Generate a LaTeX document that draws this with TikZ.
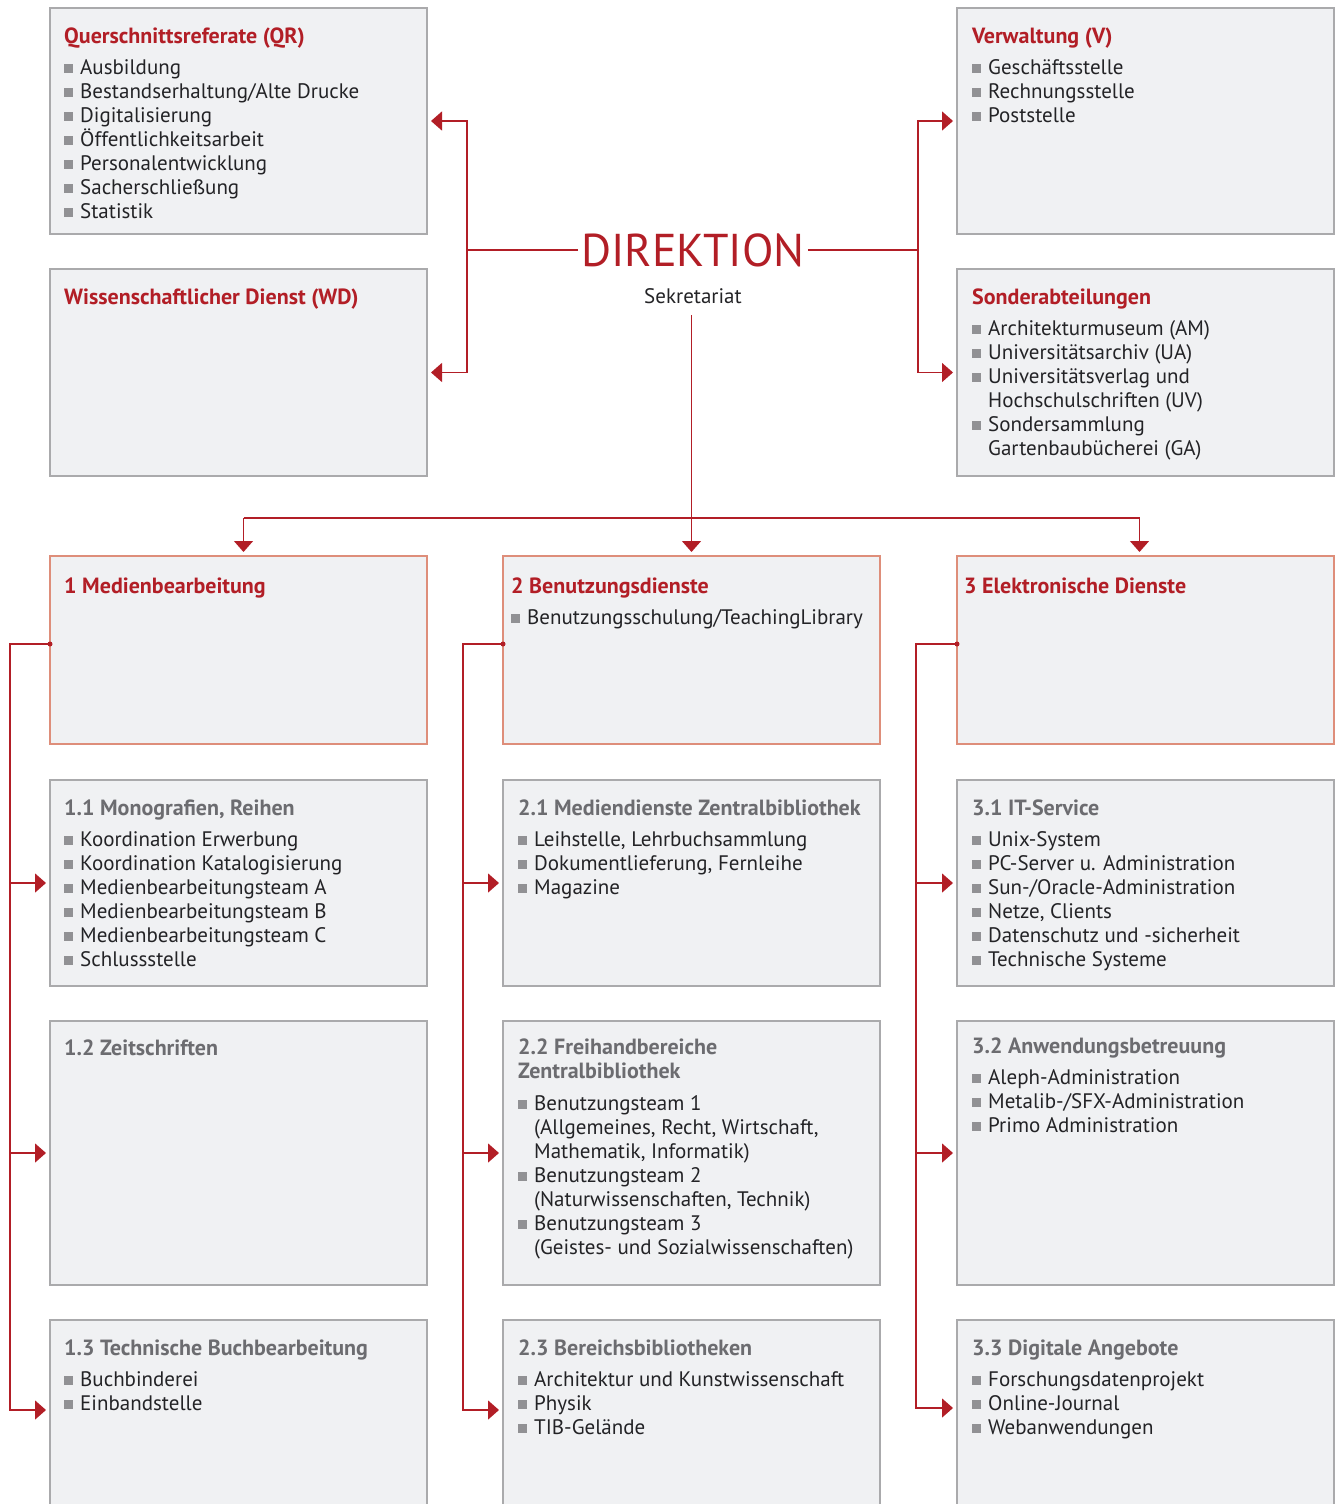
\documentclass[tikz,border=0pt]{standalone}
\usepackage{fontspec}
\setmainfont{PT Sans}
\usepackage{xcolor}
\usetikzlibrary{arrows.meta,positioning}

\definecolor{tibred}{RGB}{178,30,38}
\definecolor{boxfill}{RGB}{240,241,243}
\definecolor{boxgray}{RGB}{170,170,172}
\definecolor{boxsalmon}{RGB}{222,142,122}
\definecolor{textdark}{RGB}{35,35,38}
\definecolor{headgray}{RGB}{108,108,112}
\definecolor{bulgray}{RGB}{145,145,148}

\newcommand{\itm}{\makebox[16pt][l]{\textcolor{bulgray}{\rule[1pt]{9pt}{9pt}}}}
\newcommand{\cnt}{\hspace*{16pt}}
\newcommand{\hdr}[1]{\rule{0pt}{18pt}{\fontsize{22}{24}\selectfont\textbf{\textcolor{tibred}{#1}}}}
\newcommand{\hdg}[1]{\rule{0pt}{18pt}{\fontsize{22}{24}\selectfont\textbf{\textcolor{headgray}{#1}}}}

\begin{document}
\begin{tikzpicture}[
    x=1pt, y=-1pt,
    box/.style={rectangle, draw=boxgray, line width=1.3pt, fill=boxfill, minimum width=377pt, inner sep=0pt, outer sep=0pt, anchor=north west},
    mainbox/.style={box, draw=boxsalmon},
    txt/.style={anchor=north west, align=left, inner sep=0pt, text=textdark, font=\fontsize{21}{24}\selectfont},
    link/.style={draw=tibred, line width=1.4pt},
    arrow/.style={link, -{Triangle[length=11pt,width=19pt]}, shorten >=4pt}
]
    \useasboundingbox (0,0) rectangle (1338,1504);

    % top boxes
    \node[box, minimum height=226pt] (qr) at (50,8) {};
    \node[box, minimum height=207pt, below=35pt of qr] (wd) {};
    \node[box, minimum height=226pt, right=530pt of qr] (vw) {};
    \node[box, minimum height=207pt, below=35pt of vw] (son) {};

    \node[font=\fontsize{46}{50}\selectfont, text=tibred, inner sep=3pt, anchor=base] (dir) at (693,266) {DIREKTION};
    \node[font=\fontsize{21}{24}\selectfont, text=textdark, inner sep=3pt, anchor=base] (sek) at (693,303) {Sekretariat};

    % departments
    \node[mainbox, minimum height=188pt, below=80pt of wd] (m1) {};
    \node[mainbox, minimum height=188pt, right=76pt of m1] (m2) {};
    \node[mainbox, minimum height=188pt, right=77pt of m2] (m3) {};

    \node[box, minimum height=206pt, below=36pt of m1] (s11) {};
    \node[box, minimum height=264pt, below=35pt of s11] (s12) {};
    \node[box, minimum height=220pt, below=35pt of s12] (s13) {};
    \node[box, minimum height=206pt, below=36pt of m2] (s21) {};
    \node[box, minimum height=264pt, below=35pt of s21] (s22) {};
    \node[box, minimum height=220pt, below=35pt of s22] (s23) {};
    \node[box, minimum height=206pt, below=36pt of m3] (s31) {};
    \node[box, minimum height=264pt, below=35pt of s31] (s32) {};
    \node[box, minimum height=220pt, below=35pt of s32] (s33) {};

    % texts
    \node[txt] (qrt) at ([xshift=14pt,yshift=-17pt]qr.north west) {\hdr{Querschnittsreferate (QR)}\\[7pt]
        \itm Ausbildung\\ \itm Bestandserhaltung/Alte Drucke\\ \itm Digitalisierung\\ \itm Öffentlichkeitsarbeit\\
        \itm Personalentwicklung\\ \itm Sacherschließung\\ \itm Statistik};
    \node[txt] (wdt) at ([xshift=14pt,yshift=-17pt]wd.north west) {\hdr{Wissenschaftlicher Dienst (WD)}};
    \node[txt] (vwt) at ([xshift=15pt,yshift=-17pt]vw.north west) {\hdr{Verwaltung (V)}\\[7pt]
        \itm Geschäftsstelle\\ \itm Rechnungsstelle\\ \itm Poststelle};
    \node[txt] (sont) at ([xshift=15pt,yshift=-17pt]son.north west) {\hdr{Sonderabteilungen}\\[7pt]
        \itm Architekturmuseum (AM)\\ \itm Universitätsarchiv (UA)\\ \itm Universitätsverlag und\\ \cnt Hochschulschriften (UV)\\
        \itm Sondersammlung\\ \cnt Gartenbaubücherei (GA)};

    \node[txt] (m1t) at ([xshift=14pt,yshift=-19pt]m1.north west) {\hdr{1 Medienbearbeitung}};
    \node[txt] (m2t) at ([xshift=8pt,yshift=-19pt]m2.north west) {\hdr{2 Benutzungsdienste}\\[7pt]
        \itm Benutzungsschulung/TeachingLibrary};
    \node[txt] (m3t) at ([xshift=7pt,yshift=-19pt]m3.north west) {\hdr{3 Elektronische Dienste}};

    \node[txt] (s11t) at ([xshift=14pt,yshift=-17pt]s11.north west) {\hdg{1.1 Monografien, Reihen}\\[7pt]
        \itm Koordination Erwerbung\\ \itm Koordination Katalogisierung\\ \itm Medienbearbeitungsteam A\\
        \itm Medienbearbeitungsteam B\\ \itm Medienbearbeitungsteam C\\ \itm Schlussstelle};
    \node[txt] (s12t) at ([xshift=14pt,yshift=-16pt]s12.north west) {\hdg{1.2 Zeitschriften}};
    \node[txt] (s13t) at ([xshift=14pt,yshift=-17pt]s13.north west) {\hdg{1.3 Technische Buchbearbeitung}\\[7pt]
        \itm Buchbinderei\\ \itm Einbandstelle};

    \node[txt] (s21t) at ([xshift=15pt,yshift=-17pt]s21.north west) {\hdg{2.1 Mediendienste Zentralbibliothek}\\[7pt]
        \itm Leihstelle, Lehrbuchsammlung\\ \itm Dokumentlieferung, Fernleihe\\ \itm Magazine};
    \node[txt] (s22t) at ([xshift=15pt,yshift=-15pt]s22.north west) {\hdg{2.2 Freihandbereiche}\\ \hdg{Zentralbibliothek}\\[8pt]
        \itm Benutzungsteam 1\\ \cnt (Allgemeines, Recht, Wirtschaft,\\ \cnt Mathematik, Informatik)\\
        \itm Benutzungsteam 2\\ \cnt (Naturwissenschaften, Technik)\\
        \itm Benutzungsteam 3\\ \cnt (Geistes- und Sozialwissenschaften)};
    \node[txt] (s23t) at ([xshift=15pt,yshift=-17pt]s23.north west) {\hdg{2.3 Bereichsbibliotheken}\\[7pt]
        \itm Architektur und Kunstwissenschaft\\ \itm Physik\\ \itm TIB-Gelände};

    \node[txt] (s31t) at ([xshift=15pt,yshift=-17pt]s31.north west) {\hdg{3.1 IT-Service}\\[7pt]
        \itm Unix-System\\ \itm PC-Server u. Administration\\ \itm Sun-/Oracle-Administration\\
        \itm Netze, Clients\\ \itm Datenschutz und -sicherheit\\ \itm Technische Systeme};
    \node[txt] (s32t) at ([xshift=15pt,yshift=-14pt]s32.north west) {\hdg{3.2 Anwendungsbetreuung}\\[7pt]
        \itm Aleph-Administration\\ \itm Metalib-/SFX-Administration\\ \itm Primo Administration};
    \node[txt] (s33t) at ([xshift=15pt,yshift=-17pt]s33.north west) {\hdg{3.3 Digitale Angebote}\\[7pt]
        \itm Forschungsdatenprojekt\\ \itm Online-Journal\\ \itm Webanwendungen};

    % direktion connectors
    \coordinate (lj) at (467,0);
    \coordinate (rj) at (918,0);
    \coordinate (bus) at (0,518);
    \coordinate (d1) at ([xshift=5pt]m1.north);
    \coordinate (d3) at ([xshift=-6pt]m3.north);
    \draw[link] (dir.west) -- (dir.west -| lj);
    \draw[link] (dir.east) -- (dir.east -| rj);
    \draw[arrow] (dir.west -| lj) |- (qr.east);
    \draw[arrow] (dir.west -| lj) |- (wd.east);
    \draw[arrow] (dir.east -| rj) |- (vw.west);
    \draw[arrow] (dir.east -| rj) |- (son.west);
    \draw[arrow, shorten <=9pt] (sek.south -| m2.north) -- (m2.north);
    \draw[link] (d1 |- bus) -- (d3 |- bus);
    \draw[arrow] (d1 |- bus) -- (d1);
    \draw[arrow] (d3 |- bus) -- (d3);

    % department connectors
    \coordinate (k1) at ([xshift=-40pt,yshift=6pt]m1.west);
    \coordinate (k2) at ([xshift=-40pt,yshift=6pt]m2.west);
    \coordinate (k3) at ([xshift=-41pt,yshift=6pt]m3.west);
    \coordinate (e1) at ([yshift=-90pt]s13.north west);
    \coordinate (e2) at ([yshift=-90pt]s23.north west);
    \coordinate (e3) at ([yshift=-88pt]s33.north west);

    \fill[tibred] ([yshift=6pt]m1.west) circle (2.5pt);
    \draw[arrow] ([yshift=6pt]m1.west) -- (k1) |- (e1);
    \draw[arrow] (k1 |- s11.west) -- (s11.west);
    \draw[arrow] (k1 |- s12.west) -- (s12.west);

    \fill[tibred] ([yshift=6pt]m2.west) circle (2.5pt);
    \draw[arrow] ([yshift=6pt]m2.west) -- (k2) |- (e2);
    \draw[arrow] (k2 |- s21.west) -- (s21.west);
    \draw[arrow] (k2 |- s22.west) -- (s22.west);

    \fill[tibred] ([yshift=6pt]m3.west) circle (2.5pt);
    \draw[arrow] ([yshift=6pt]m3.west) -- (k3) |- (e3);
    \draw[arrow] (k3 |- s31.west) -- (s31.west);
    \draw[arrow] (k3 |- s32.west) -- (s32.west);
\end{tikzpicture}
\end{document}
